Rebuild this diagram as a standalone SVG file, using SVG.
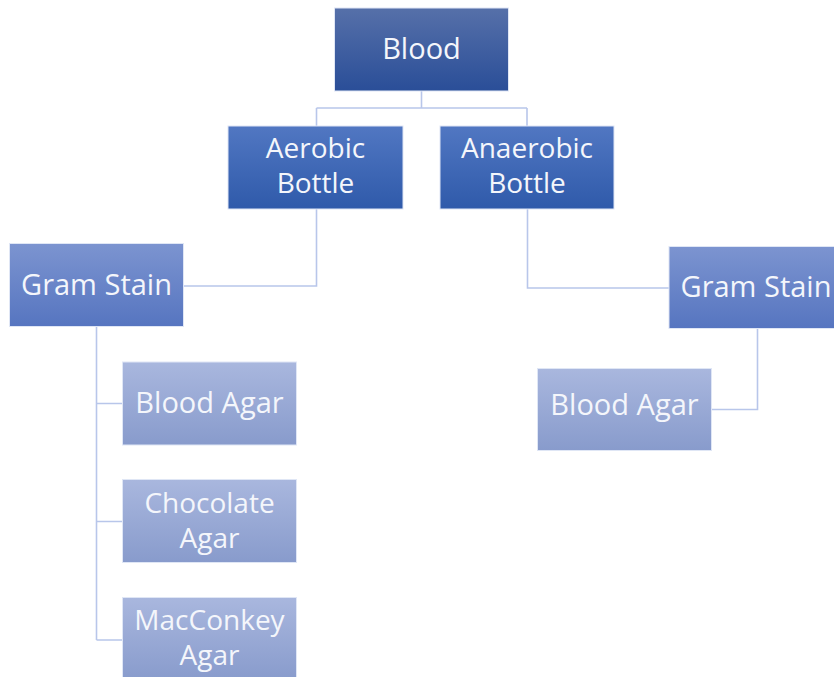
<svg xmlns="http://www.w3.org/2000/svg" width="834" height="677" viewBox="0 0 834 677">
<defs>
<linearGradient id="g1" x1="0" y1="0" x2="0" y2="1"><stop offset="0" stop-color="#5670a9"/><stop offset="1" stop-color="#2a4e98"/></linearGradient>
<linearGradient id="g2" x1="0" y1="0" x2="0" y2="1"><stop offset="0" stop-color="#5177c2"/><stop offset="1" stop-color="#2f5aaa"/></linearGradient>
<linearGradient id="g3" x1="0" y1="0" x2="0" y2="1"><stop offset="0" stop-color="#7c94d0"/><stop offset="1" stop-color="#5675c0"/></linearGradient>
<linearGradient id="g4" x1="0" y1="0" x2="0" y2="1"><stop offset="0" stop-color="#a9b7de"/><stop offset="1" stop-color="#889bcc"/></linearGradient>
</defs>
<style>
.n{stroke:#dfe6f5;stroke-width:1}
text{font-family:"Open Sans","Noto Sans",sans-serif;font-size:29px;fill:#f4f6fb;text-anchor:middle}
text.t{font-size:28px}
.c{fill:none;stroke:#b8c6ea;stroke-width:1.6}
</style>
<rect width="834" height="677" fill="#ffffff"/>
<g id="connectors">
<path class="c" d="M421.5 91V108M316.5 108H527M316.5 108V126M527 108V126"/>
<path class="c" d="M316.5 209V286H183.5"/>
<path class="c" d="M527.5 209V288H669"/>
<path class="c" d="M96.5 327V640M96.5 403.5H122.5M96.5 521.5H122.5M96.5 640H122.5"/>
<path class="c" d="M757.5 328V409.5H711.5"/>
</g>
<g id="blood"><rect class="n" x="334.5" y="8" width="174" height="83" fill="url(#g1)"/><text x="421.5" y="59">Blood</text></g>
<g id="aerobic"><rect class="n" x="228" y="126" width="175" height="83" fill="url(#g2)"/><text class="t" x="315.5" y="158">Aerobic</text><text class="t" x="315.5" y="193">Bottle</text></g>
<g id="anaerobic"><rect class="n" x="440" y="126" width="174" height="83" fill="url(#g2)"/><text class="t" x="527" y="158">Anaerobic</text><text class="t" x="527" y="193">Bottle</text></g>
<g id="gram-left"><rect class="n" x="9.5" y="243.5" width="174" height="83" fill="url(#g3)"/><text x="96.5" y="295">Gram Stain</text></g>
<g id="gram-right"><rect class="n" x="669" y="246.5" width="174" height="82" fill="url(#g3)"/><text x="756" y="297">Gram Stain</text></g>
<g id="blood-agar-left"><rect class="n" x="122.5" y="362" width="174" height="83" fill="url(#g4)"/><text x="209.5" y="413">Blood Agar</text></g>
<g id="chocolate-agar"><rect class="n" x="122.5" y="479.5" width="174" height="83" fill="url(#g4)"/><text class="t" x="209.5" y="513">Chocolate</text><text class="t" x="209.5" y="548">Agar</text></g>
<g id="macconkey-agar"><rect class="n" x="122.5" y="597.5" width="174" height="83" fill="url(#g4)"/><text class="t" x="209.5" y="630">MacConkey</text><text class="t" x="209.5" y="665">Agar</text></g>
<g id="blood-agar-right"><rect class="n" x="537.5" y="368.5" width="174" height="82" fill="url(#g4)"/><text x="624.5" y="415">Blood Agar</text></g>
</svg>
